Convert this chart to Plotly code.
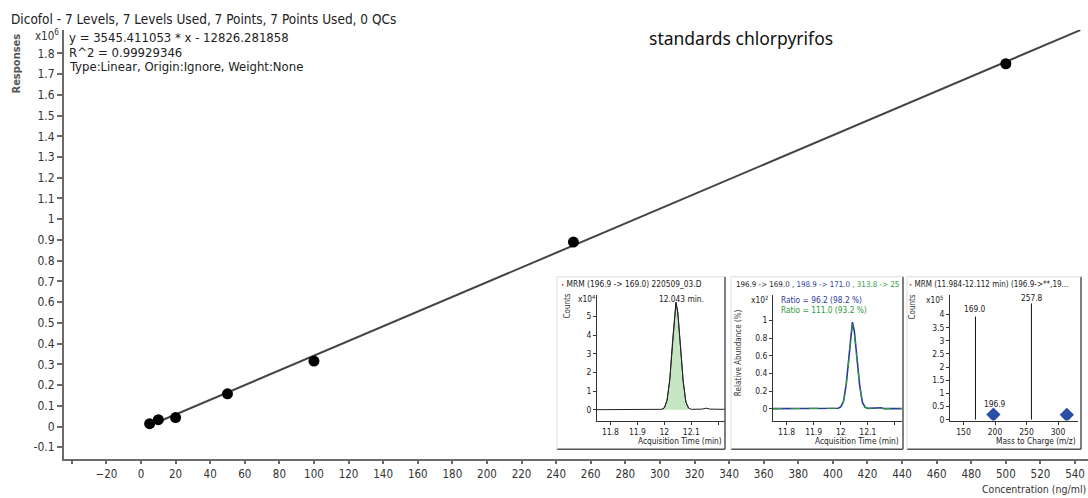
import plotly.graph_objects as go

W, H = 1088, 498


def px(x):
    return x / W


def py(y):
    return 1 - y / H


# ---------------- main calibration data ----------------
conc = [5, 10, 20, 50, 100, 250, 500]
response_e6 = [0.014, 0.033, 0.043, 0.158, 0.316, 0.89, 1.75]
slope = 3545.411053
intercept = -12826.281858
fit_x = [5, 543]
fit_y_e6 = [(slope * x + intercept) / 1e6 for x in fit_x]

x_ticks = list(range(-20, 541, 20))
x_minor_ticks = [-40]
y_ticks = [round(-0.1 + 0.1 * i, 1) for i in range(20)]
y_ticktext = [f"{v:g}" for v in y_ticks]

# ---------------- inset 1: MRM chromatogram (x10^4 counts) ----------------
t1 = [11.75, 11.99, 12.0, 12.01, 12.02, 12.03, 12.04, 12.043, 12.05, 12.06,
      12.07, 12.08, 12.09, 12.10, 12.14, 12.155, 12.17, 12.225]
c1 = [0.0, 0.02, 0.1, 0.5, 1.6, 3.6, 5.6, 5.75, 5.2, 3.4,
      1.5, 0.4, 0.08, 0.02, 0.03, 0.08, 0.03, 0.02]
peak_t1 = t1[1:13]
peak_c1 = c1[1:13]

# ---------------- inset 2: qualifier ratios (x10^2 %) ----------------
t2 = [11.75, 11.99, 12.0, 12.01, 12.02, 12.03, 12.04, 12.043, 12.05, 12.06,
      12.07, 12.08, 12.09, 12.10, 12.15, 12.16, 12.225]
ion_blue = [0, 0.005, 0.02, 0.08, 0.27, 0.62, 0.95, 0.98, 0.88, 0.58,
            0.26, 0.07, 0.015, 0.003, 0.01, 0.0, 0]
ion_green = [0, 0.005, 0.02, 0.08, 0.26, 0.60, 0.92, 0.95, 0.86, 0.57,
             0.25, 0.07, 0.015, 0.003, 0.008, 0.0, 0]

# ---------------- inset 3: spectrum (x10^5 counts) ----------------
mz_sticks = [169.0, 257.8]
stick_counts = [3.92, 4.42]
mz_diamonds = [197.5, 314]
diamond_counts = [0.19, 0.18]

stick_x, stick_y = [], []
for m, c in zip(mz_sticks, stick_counts):
    stick_x += [m, m, None]
    stick_y += [0, c, None]

fig = go.Figure()

# main
fig.add_trace(go.Scatter(x=fit_x, y=fit_y_e6, mode="lines",
                         line=dict(color="#444444", width=2), xaxis="x", yaxis="y"))
fig.add_trace(go.Scatter(x=conc, y=response_e6, mode="markers",
                         marker=dict(color="#000000", size=11), xaxis="x", yaxis="y"))

# inset 1
fig.add_trace(go.Scatter(x=peak_t1, y=peak_c1, mode="lines", fill="tozeroy",
                         fillcolor="#c6e5c2", line=dict(color="#333333", width=1),
                         xaxis="x2", yaxis="y2"))
fig.add_trace(go.Scatter(x=t1, y=c1, mode="lines",
                         line=dict(color="#222222", width=1), xaxis="x2", yaxis="y2"))

# inset 2
fig.add_trace(go.Scatter(x=t2, y=ion_blue, mode="lines",
                         line=dict(color="#2b3a9c", width=1.6), xaxis="x3", yaxis="y3"))
fig.add_trace(go.Scatter(x=t2, y=ion_green, mode="lines",
                         line=dict(color="#2e9a3a", width=1.2, dash="dash"), xaxis="x3", yaxis="y3"))

# inset 3
fig.add_trace(go.Scatter(x=stick_x, y=stick_y, mode="lines",
                         line=dict(color="#111111", width=1), xaxis="x4", yaxis="y4"))
fig.add_trace(go.Scatter(x=mz_diamonds, y=diamond_counts, mode="markers",
                         marker=dict(symbol="diamond", color="#2a4ea6", size=11),
                         xaxis="x4", yaxis="y4"))

FONT = "Liberation Sans Narrow, Arial Narrow, DejaVu Sans Condensed, sans-serif"

main_axis = dict(showline=True, linecolor="#6a6a6a", linewidth=2, ticks="outside",
                 ticklen=3, tickcolor="#6a6a6a", tickwidth=1.5, showgrid=False,
                 zeroline=False, tickfont=dict(family=FONT, size=12, color="#333333"))
inset_axis = dict(showline=True, linecolor="#333333", linewidth=1, ticks="outside",
                  ticklen=3, tickcolor="#333333", showgrid=False, zeroline=False,
                  tickfont=dict(family=FONT, size=8.5, color="#222222"))

fig.update_layout(
    width=W, height=H, margin=dict(l=0, r=0, t=0, b=0),
    paper_bgcolor="white", plot_bgcolor="rgba(0,0,0,0)", showlegend=False,
    xaxis=dict(main_axis, domain=[px(64), 1.0], range=[-44.52, 547.5],
               tickvals=x_ticks, anchor="y", tickfont=dict(family=FONT, size=11.5, color="#333333"),
               minor=dict(tickvals=x_minor_ticks, ticks="outside", ticklen=3,
                          tickcolor="#6a6a6a", tickwidth=1.5)),
    yaxis=dict(main_axis, domain=[py(463), py(30)], range=[-0.158, 1.914],
               tickvals=y_ticks, ticktext=y_ticktext, anchor="x", ticklen=5),
    xaxis2=dict(inset_axis, domain=[px(597), px(725)], range=[11.75, 12.225],
                tickvals=[11.8, 11.9, 12.0, 12.1], ticktext=["11.8", "11.9", "12", "12.1"],
                anchor="y2", minor=dict(tickvals=[12.2], ticks="outside", ticklen=3, tickcolor="#333333")),
    yaxis2=dict(inset_axis, domain=[py(424), py(297)], range=[-0.585, 6.17],
                tickvals=[0, 1, 2, 3, 4, 5], anchor="x2"),
    xaxis3=dict(inset_axis, domain=[px(773), px(902)], range=[11.75, 12.226],
                tickvals=[11.8, 11.9, 12.0, 12.1], ticktext=["11.8", "11.9", "12", "12.1"],
                anchor="y3", minor=dict(tickvals=[12.2], ticks="outside", ticklen=3, tickcolor="#333333")),
    yaxis3=dict(inset_axis, domain=[py(424), py(297)], range=[-0.135, 1.292],
                tickvals=[0, 0.2, 0.4, 0.6, 0.8, 1.0], ticktext=["0", "0.2", "0.4", "0.6", "0.8", "1"],
                anchor="x3"),
    xaxis4=dict(inset_axis, domain=[px(950), px(1078)], range=[128.6, 331.7],
                tickvals=[150, 200, 250, 300], anchor="y4"),
    yaxis4=dict(inset_axis, domain=[py(424), py(297)], range=[-0.038, 4.755],
                tickvals=[0, 0.5, 1, 1.5, 2, 2.5, 3, 3.5, 4],
                ticktext=["0", "0.5", "1", "1.5", "2", "2.5", "3", "3.5", "4"], anchor="x4"),
)

# inset panel borders
shapes = []
for (l, r) in [(557, 725), (731, 903), (907, 1081)]:
    shapes.append(dict(type="line", xref="paper", yref="paper", x0=px(l), x1=px(r),
                       y0=py(453), y1=py(453), line=dict(color="#555555", width=1.5)))
    shapes.append(dict(type="line", xref="paper", yref="paper", x0=px(r), x1=px(r),
                       y0=py(453), y1=py(279), line=dict(color="#555555", width=1.5)))
    shapes.append(dict(type="line", xref="paper", yref="paper", x0=px(l), x1=px(r),
                       y0=py(279), y1=py(279), line=dict(color="#dddddd", width=1)))
    shapes.append(dict(type="line", xref="paper", yref="paper", x0=px(l), x1=px(l),
                       y0=py(453), y1=py(279), line=dict(color="#dddddd", width=1)))
fig.update_layout(shapes=shapes)


def ann(text, x, y, size=8.3, color="#222222", xanchor="left", angle=0, family=FONT):
    return dict(text=text, x=px(x), y=py(y), xref="paper", yref="paper",
                xanchor=xanchor, yanchor="middle", showarrow=False, textangle=angle,
                font=dict(family=family, size=size, color=color))


RED_DOT = "<span style='color:#cc2222;font-size:6px'>•</span> "

annotations = [
    ann("Dicofol - 7 Levels, 7 Levels Used, 7 Points, 7 Points Used, 0 QCs", 9, 19, 13.5, "#222222"),
    ann("y = 3545.411053 * x - 12826.281858", 67, 38, 13, "#222222"),
    ann("R^2 = 0.99929346", 67, 53, 13, "#222222"),
    ann("Type:Linear, Origin:Ignore, Weight:None", 67, 67, 13, "#222222"),
    dict(text="x10<sup>6</sup>", x=px(60), y=py(44), xref="paper", yref="paper",
         xanchor="right", yanchor="bottom", showarrow=False, borderpad=0,
         font=dict(family=FONT, size=11.5, color="#333333")),
    ann("<b>Responses</b>", 16, 64, 11, "#555555", "center", -90),
    ann("standards chlorpyrifos", 741, 38, 17.5, "#111111", "center", 0, "Noto Sans, sans-serif"),
    dict(text="Concentration (ng/ml)", x=px(1087), y=-0.004, xref="paper", yref="paper",
         xanchor="right", yanchor="bottom", showarrow=False, borderpad=0,
         font=dict(family=FONT, size=10.5, color="#333333")),
    # inset 1
    ann(RED_DOT + "MRM (196.9 -> 169.0) 220509_03.D", 559, 286),
    ann("Counts", 568, 309, 8, "#333333", "center", -90),
    ann("x10<sup>4</sup>", 576, 301),
    ann("12.043 min.", 681, 301, 8.3, "#222222", "center"),
    ann("Acquisition Time (min)", 724, 445, 8.3, "#222222", "right"),
    # inset 2
    ann("196.9 -> 169.0 <span style='color:#2b3a9c'>, 198.9 -> 171.0</span>"
        " <span style='color:#2e9a3a'>, 313.8 -> 25</span>", 734, 287, 7.9),
    ann("Relative Abundance (%)", 738, 356, 8, "#333333", "center", -90),
    ann("x10<sup>2</sup>", 749, 302),
    ann("Ratio = 96.2 (98.2 %)", 779, 302, 8.3, "#2b3a9c"),
    ann("Ratio = 111.0 (93.2 %)", 779, 313, 8.3, "#2e9a3a"),
    ann("Acquisition Time (min)", 901, 445, 8.3, "#222222", "right"),
    # inset 3
    ann(RED_DOT + "MRM (11.984-12.112 min) (196.9->**,19...", 907, 287, 8.0),
    ann("Counts", 913, 310, 8, "#333333", "center", -90),
    ann("x10<sup>5</sup>", 924, 302),
    ann("169.0", 975, 312, 8.3, "#222222", "center"),
    ann("257.8", 1032, 300, 8.3, "#222222", "center"),
    ann("196.9", 995, 407, 8.3, "#222222", "center"),
    ann("Mass to Charge (m/z)", 1078, 445, 8.3, "#222222", "right"),
]
fig.update_layout(annotations=annotations)

fig.write_html("out.html")
